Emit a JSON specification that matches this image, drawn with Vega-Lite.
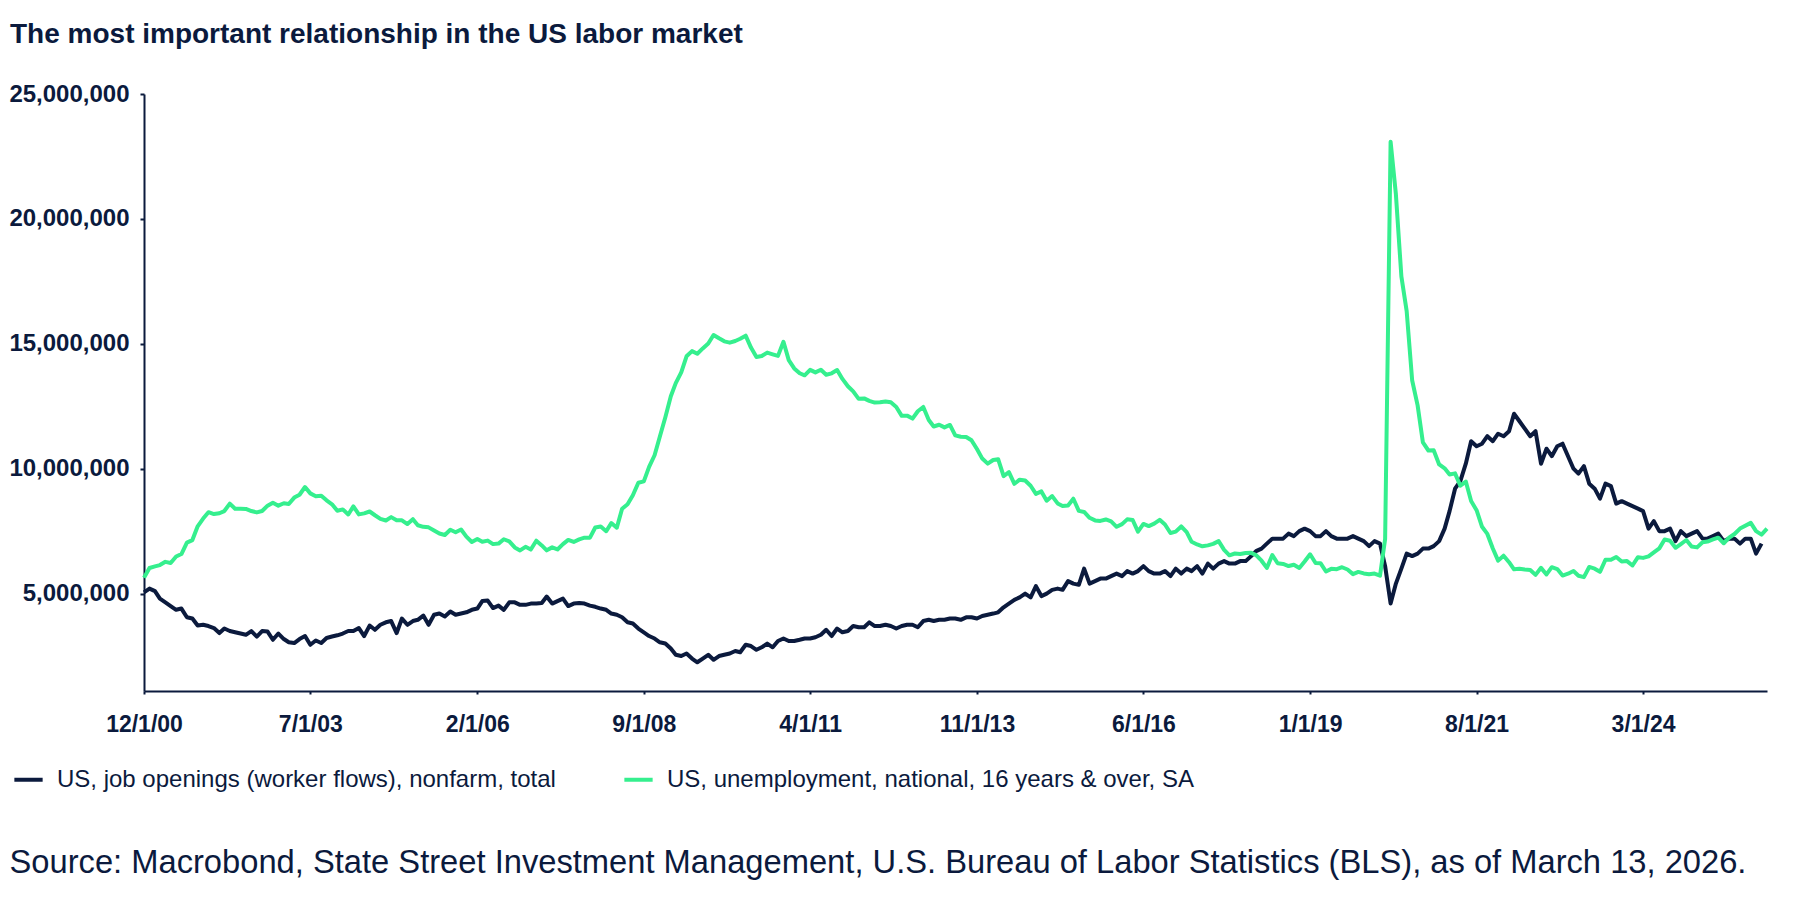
{
  "$schema": "https://vega.github.io/schema/vega-lite/v6.json",
  "width": 1623,
  "height": 597,
  "autosize": {"type": "none"},
  "padding": {"left": 144, "top": 94, "right": 33, "bottom": 209},
  "background": "white",
  "title": {
    "text": "The most important relationship in the US labor market",
    "anchor": "start",
    "frame": "group",
    "dx": -134,
    "dy": -29,
    "font": "Liberation Sans",
    "fontSize": 28,
    "fontWeight": "bold",
    "color": "#0b1a3d"
  },
  "config": {
    "view": {"stroke": null},
    "axis": {"grid": false, "domainColor": "#0b1a3d", "domainWidth": 2, "tickColor": "#0b1a3d", "tickWidth": 2, "labelColor": "#0b1a3d", "labelFont": "Liberation Sans", "labelFontWeight": "bold", "labelFontSize": 23}
  },
  "datasets": {
    "jo": [
      {"d":"2000-12-01","v":5050000},
      {"d":"2001-01-01","v":5200000},{"d":"2001-02-01","v":5100000},{"d":"2001-03-01","v":4800000},{"d":"2001-04-01","v":4650000},{"d":"2001-05-01","v":4500000},{"d":"2001-06-01","v":4350000},{"d":"2001-07-01","v":4400000},{"d":"2001-08-01","v":4050000},{"d":"2001-09-01","v":4000000},{"d":"2001-10-01","v":3720000},{"d":"2001-11-01","v":3750000},{"d":"2001-12-01","v":3700000},
      {"d":"2002-01-01","v":3620000},{"d":"2002-02-01","v":3420000},{"d":"2002-03-01","v":3600000},{"d":"2002-04-01","v":3500000},{"d":"2002-05-01","v":3450000},{"d":"2002-06-01","v":3400000},{"d":"2002-07-01","v":3350000},{"d":"2002-08-01","v":3500000},{"d":"2002-09-01","v":3280000},{"d":"2002-10-01","v":3500000},{"d":"2002-11-01","v":3480000},{"d":"2002-12-01","v":3150000},
      {"d":"2003-01-01","v":3400000},{"d":"2003-02-01","v":3180000},{"d":"2003-03-01","v":3050000},{"d":"2003-04-01","v":3020000},{"d":"2003-05-01","v":3180000},{"d":"2003-06-01","v":3300000},{"d":"2003-07-01","v":2950000},{"d":"2003-08-01","v":3120000},{"d":"2003-09-01","v":3020000},{"d":"2003-10-01","v":3220000},{"d":"2003-11-01","v":3280000},{"d":"2003-12-01","v":3330000},
      {"d":"2004-01-01","v":3400000},{"d":"2004-02-01","v":3500000},{"d":"2004-03-01","v":3500000},{"d":"2004-04-01","v":3620000},{"d":"2004-05-01","v":3300000},{"d":"2004-06-01","v":3720000},{"d":"2004-07-01","v":3550000},{"d":"2004-08-01","v":3750000},{"d":"2004-09-01","v":3850000},{"d":"2004-10-01","v":3900000},{"d":"2004-11-01","v":3420000},{"d":"2004-12-01","v":4000000},
      {"d":"2005-01-01","v":3750000},{"d":"2005-02-01","v":3900000},{"d":"2005-03-01","v":3950000},{"d":"2005-04-01","v":4120000},{"d":"2005-05-01","v":3750000},{"d":"2005-06-01","v":4150000},{"d":"2005-07-01","v":4200000},{"d":"2005-08-01","v":4080000},{"d":"2005-09-01","v":4280000},{"d":"2005-10-01","v":4150000},{"d":"2005-11-01","v":4200000},{"d":"2005-12-01","v":4250000},
      {"d":"2006-01-01","v":4350000},{"d":"2006-02-01","v":4400000},{"d":"2006-03-01","v":4700000},{"d":"2006-04-01","v":4720000},{"d":"2006-05-01","v":4420000},{"d":"2006-06-01","v":4520000},{"d":"2006-07-01","v":4350000},{"d":"2006-08-01","v":4650000},{"d":"2006-09-01","v":4650000},{"d":"2006-10-01","v":4550000},{"d":"2006-11-01","v":4550000},{"d":"2006-12-01","v":4600000},
      {"d":"2007-01-01","v":4600000},{"d":"2007-02-01","v":4620000},{"d":"2007-03-01","v":4880000},{"d":"2007-04-01","v":4600000},{"d":"2007-05-01","v":4700000},{"d":"2007-06-01","v":4800000},{"d":"2007-07-01","v":4500000},{"d":"2007-08-01","v":4600000},{"d":"2007-09-01","v":4620000},{"d":"2007-10-01","v":4600000},{"d":"2007-11-01","v":4520000},{"d":"2007-12-01","v":4470000},
      {"d":"2008-01-01","v":4400000},{"d":"2008-02-01","v":4350000},{"d":"2008-03-01","v":4200000},{"d":"2008-04-01","v":4150000},{"d":"2008-05-01","v":4050000},{"d":"2008-06-01","v":3850000},{"d":"2008-07-01","v":3800000},{"d":"2008-08-01","v":3600000},{"d":"2008-09-01","v":3450000},{"d":"2008-10-01","v":3300000},{"d":"2008-11-01","v":3200000},{"d":"2008-12-01","v":3050000},
      {"d":"2009-01-01","v":3000000},{"d":"2009-02-01","v":2800000},{"d":"2009-03-01","v":2550000},{"d":"2009-04-01","v":2500000},{"d":"2009-05-01","v":2600000},{"d":"2009-06-01","v":2400000},{"d":"2009-07-01","v":2250000},{"d":"2009-08-01","v":2400000},{"d":"2009-09-01","v":2550000},{"d":"2009-10-01","v":2350000},{"d":"2009-11-01","v":2500000},{"d":"2009-12-01","v":2550000},
      {"d":"2010-01-01","v":2600000},{"d":"2010-02-01","v":2700000},{"d":"2010-03-01","v":2650000},{"d":"2010-04-01","v":2950000},{"d":"2010-05-01","v":2900000},{"d":"2010-06-01","v":2750000},{"d":"2010-07-01","v":2850000},{"d":"2010-08-01","v":3000000},{"d":"2010-09-01","v":2850000},{"d":"2010-10-01","v":3100000},{"d":"2010-11-01","v":3200000},{"d":"2010-12-01","v":3100000},
      {"d":"2011-01-01","v":3100000},{"d":"2011-02-01","v":3150000},{"d":"2011-03-01","v":3200000},{"d":"2011-04-01","v":3200000},{"d":"2011-05-01","v":3250000},{"d":"2011-06-01","v":3350000},{"d":"2011-07-01","v":3550000},{"d":"2011-08-01","v":3300000},{"d":"2011-09-01","v":3600000},{"d":"2011-10-01","v":3450000},{"d":"2011-11-01","v":3500000},{"d":"2011-12-01","v":3700000},
      {"d":"2012-01-01","v":3650000},{"d":"2012-02-01","v":3650000},{"d":"2012-03-01","v":3850000},{"d":"2012-04-01","v":3700000},{"d":"2012-05-01","v":3700000},{"d":"2012-06-01","v":3750000},{"d":"2012-07-01","v":3700000},{"d":"2012-08-01","v":3600000},{"d":"2012-09-01","v":3700000},{"d":"2012-10-01","v":3750000},{"d":"2012-11-01","v":3750000},{"d":"2012-12-01","v":3650000},
      {"d":"2013-01-01","v":3900000},{"d":"2013-02-01","v":3950000},{"d":"2013-03-01","v":3900000},{"d":"2013-04-01","v":3950000},{"d":"2013-05-01","v":3950000},{"d":"2013-06-01","v":4000000},{"d":"2013-07-01","v":4000000},{"d":"2013-08-01","v":3950000},{"d":"2013-09-01","v":4050000},{"d":"2013-10-01","v":4050000},{"d":"2013-11-01","v":4000000},{"d":"2013-12-01","v":4100000},
      {"d":"2014-01-01","v":4150000},{"d":"2014-02-01","v":4200000},{"d":"2014-03-01","v":4250000},{"d":"2014-04-01","v":4450000},{"d":"2014-05-01","v":4600000},{"d":"2014-06-01","v":4750000},{"d":"2014-07-01","v":4850000},{"d":"2014-08-01","v":5000000},{"d":"2014-09-01","v":4850000},{"d":"2014-10-01","v":5300000},{"d":"2014-11-01","v":4900000},{"d":"2014-12-01","v":5000000},
      {"d":"2015-01-01","v":5150000},{"d":"2015-02-01","v":5200000},{"d":"2015-03-01","v":5150000},{"d":"2015-04-01","v":5500000},{"d":"2015-05-01","v":5400000},{"d":"2015-06-01","v":5350000},{"d":"2015-07-01","v":6000000},{"d":"2015-08-01","v":5400000},{"d":"2015-09-01","v":5500000},{"d":"2015-10-01","v":5600000},{"d":"2015-11-01","v":5600000},{"d":"2015-12-01","v":5700000},
      {"d":"2016-01-01","v":5800000},{"d":"2016-02-01","v":5700000},{"d":"2016-03-01","v":5900000},{"d":"2016-04-01","v":5800000},{"d":"2016-05-01","v":5900000},{"d":"2016-06-01","v":6100000},{"d":"2016-07-01","v":5900000},{"d":"2016-08-01","v":5800000},{"d":"2016-09-01","v":5800000},{"d":"2016-10-01","v":5900000},{"d":"2016-11-01","v":5700000},{"d":"2016-12-01","v":6000000},
      {"d":"2017-01-01","v":5800000},{"d":"2017-02-01","v":6000000},{"d":"2017-03-01","v":5900000},{"d":"2017-04-01","v":6100000},{"d":"2017-05-01","v":5800000},{"d":"2017-06-01","v":6200000},{"d":"2017-07-01","v":6000000},{"d":"2017-08-01","v":6200000},{"d":"2017-09-01","v":6300000},{"d":"2017-10-01","v":6200000},{"d":"2017-11-01","v":6200000},{"d":"2017-12-01","v":6300000},
      {"d":"2018-01-01","v":6300000},{"d":"2018-02-01","v":6500000},{"d":"2018-03-01","v":6700000},{"d":"2018-04-01","v":6800000},{"d":"2018-05-01","v":7000000},{"d":"2018-06-01","v":7200000},{"d":"2018-07-01","v":7200000},{"d":"2018-08-01","v":7200000},{"d":"2018-09-01","v":7400000},{"d":"2018-10-01","v":7300000},{"d":"2018-11-01","v":7500000},{"d":"2018-12-01","v":7600000},
      {"d":"2019-01-01","v":7500000},{"d":"2019-02-01","v":7300000},{"d":"2019-03-01","v":7300000},{"d":"2019-04-01","v":7500000},{"d":"2019-05-01","v":7300000},{"d":"2019-06-01","v":7200000},{"d":"2019-07-01","v":7200000},{"d":"2019-08-01","v":7200000},{"d":"2019-09-01","v":7300000},{"d":"2019-10-01","v":7200000},{"d":"2019-11-01","v":7100000},{"d":"2019-12-01","v":6900000},
      {"d":"2020-01-01","v":7100000},{"d":"2020-02-01","v":7000000},{"d":"2020-03-01","v":6100000},{"d":"2020-04-01","v":4600000},{"d":"2020-05-01","v":5400000},{"d":"2020-06-01","v":6000000},{"d":"2020-07-01","v":6600000},{"d":"2020-08-01","v":6500000},{"d":"2020-09-01","v":6600000},{"d":"2020-10-01","v":6800000},{"d":"2020-11-01","v":6800000},{"d":"2020-12-01","v":6900000},
      {"d":"2021-01-01","v":7100000},{"d":"2021-02-01","v":7600000},{"d":"2021-03-01","v":8300000},{"d":"2021-04-01","v":9200000},{"d":"2021-05-01","v":9500000},{"d":"2021-06-01","v":10200000},{"d":"2021-07-01","v":11100000},{"d":"2021-08-01","v":10900000},{"d":"2021-09-01","v":11000000},{"d":"2021-10-01","v":11300000},{"d":"2021-11-01","v":11100000},{"d":"2021-12-01","v":11400000},
      {"d":"2022-01-01","v":11300000},{"d":"2022-02-01","v":11500000},{"d":"2022-03-01","v":12200000},{"d":"2022-04-01","v":11900000},{"d":"2022-05-01","v":11600000},{"d":"2022-06-01","v":11300000},{"d":"2022-07-01","v":11500000},{"d":"2022-08-01","v":10200000},{"d":"2022-09-01","v":10800000},{"d":"2022-10-01","v":10500000},{"d":"2022-11-01","v":10900000},{"d":"2022-12-01","v":11000000},
      {"d":"2023-01-01","v":10500000},{"d":"2023-02-01","v":10000000},{"d":"2023-03-01","v":9800000},{"d":"2023-04-01","v":10100000},{"d":"2023-05-01","v":9400000},{"d":"2023-06-01","v":9200000},{"d":"2023-07-01","v":8800000},{"d":"2023-08-01","v":9400000},{"d":"2023-09-01","v":9300000},{"d":"2023-10-01","v":8600000},{"d":"2023-11-01","v":8700000},{"d":"2023-12-01","v":8600000},
      {"d":"2024-01-01","v":8500000},{"d":"2024-02-01","v":8400000},{"d":"2024-03-01","v":8300000},{"d":"2024-04-01","v":7600000},{"d":"2024-05-01","v":7900000},{"d":"2024-06-01","v":7500000},{"d":"2024-07-01","v":7500000},{"d":"2024-08-01","v":7600000},{"d":"2024-09-01","v":7100000},{"d":"2024-10-01","v":7500000},{"d":"2024-11-01","v":7300000},{"d":"2024-12-01","v":7400000},
      {"d":"2025-01-01","v":7500000},{"d":"2025-02-01","v":7200000},{"d":"2025-03-01","v":7200000},{"d":"2025-04-01","v":7300000},{"d":"2025-05-01","v":7400000},{"d":"2025-06-01","v":7100000},{"d":"2025-07-01","v":7200000},{"d":"2025-08-01","v":7200000},{"d":"2025-09-01","v":7000000},{"d":"2025-10-01","v":7200000},{"d":"2025-11-01","v":7200000},{"d":"2025-12-01","v":6600000},
      {"d":"2026-01-01","v":7000000}
    ],
    "un": [
      {"d":"2000-12-01","v":5634000},
      {"d":"2001-01-01","v":6023000},{"d":"2001-02-01","v":6089000},{"d":"2001-03-01","v":6141000},{"d":"2001-04-01","v":6271000},{"d":"2001-05-01","v":6226000},{"d":"2001-06-01","v":6484000},{"d":"2001-07-01","v":6583000},{"d":"2001-08-01","v":7042000},{"d":"2001-09-01","v":7142000},{"d":"2001-10-01","v":7694000},{"d":"2001-11-01","v":8003000},{"d":"2001-12-01","v":8258000},
      {"d":"2002-01-01","v":8182000},{"d":"2002-02-01","v":8215000},{"d":"2002-03-01","v":8304000},{"d":"2002-04-01","v":8599000},{"d":"2002-05-01","v":8399000},{"d":"2002-06-01","v":8393000},{"d":"2002-07-01","v":8390000},{"d":"2002-08-01","v":8304000},{"d":"2002-09-01","v":8251000},{"d":"2002-10-01","v":8307000},{"d":"2002-11-01","v":8520000},{"d":"2002-12-01","v":8640000},
      {"d":"2003-01-01","v":8520000},{"d":"2003-02-01","v":8618000},{"d":"2003-03-01","v":8588000},{"d":"2003-04-01","v":8842000},{"d":"2003-05-01","v":8957000},{"d":"2003-06-01","v":9266000},{"d":"2003-07-01","v":9011000},{"d":"2003-08-01","v":8896000},{"d":"2003-09-01","v":8921000},{"d":"2003-10-01","v":8732000},{"d":"2003-11-01","v":8576000},{"d":"2003-12-01","v":8317000},
      {"d":"2004-01-01","v":8370000},{"d":"2004-02-01","v":8167000},{"d":"2004-03-01","v":8491000},{"d":"2004-04-01","v":8170000},{"d":"2004-05-01","v":8212000},{"d":"2004-06-01","v":8286000},{"d":"2004-07-01","v":8136000},{"d":"2004-08-01","v":7990000},{"d":"2004-09-01","v":7927000},{"d":"2004-10-01","v":8061000},{"d":"2004-11-01","v":7932000},{"d":"2004-12-01","v":7934000},
      {"d":"2005-01-01","v":7784000},{"d":"2005-02-01","v":7980000},{"d":"2005-03-01","v":7737000},{"d":"2005-04-01","v":7672000},{"d":"2005-05-01","v":7651000},{"d":"2005-06-01","v":7524000},{"d":"2005-07-01","v":7406000},{"d":"2005-08-01","v":7345000},{"d":"2005-09-01","v":7553000},{"d":"2005-10-01","v":7453000},{"d":"2005-11-01","v":7566000},{"d":"2005-12-01","v":7279000},
      {"d":"2006-01-01","v":7064000},{"d":"2006-02-01","v":7184000},{"d":"2006-03-01","v":7072000},{"d":"2006-04-01","v":7120000},{"d":"2006-05-01","v":6980000},{"d":"2006-06-01","v":7001000},{"d":"2006-07-01","v":7175000},{"d":"2006-08-01","v":7091000},{"d":"2006-09-01","v":6847000},{"d":"2006-10-01","v":6727000},{"d":"2006-11-01","v":6872000},{"d":"2006-12-01","v":6762000},
      {"d":"2007-01-01","v":7116000},{"d":"2007-02-01","v":6927000},{"d":"2007-03-01","v":6731000},{"d":"2007-04-01","v":6850000},{"d":"2007-05-01","v":6766000},{"d":"2007-06-01","v":6979000},{"d":"2007-07-01","v":7149000},{"d":"2007-08-01","v":7067000},{"d":"2007-09-01","v":7170000},{"d":"2007-10-01","v":7237000},{"d":"2007-11-01","v":7240000},{"d":"2007-12-01","v":7645000},
      {"d":"2008-01-01","v":7685000},{"d":"2008-02-01","v":7497000},{"d":"2008-03-01","v":7822000},{"d":"2008-04-01","v":7637000},{"d":"2008-05-01","v":8395000},{"d":"2008-06-01","v":8575000},{"d":"2008-07-01","v":8937000},{"d":"2008-08-01","v":9438000},{"d":"2008-09-01","v":9494000},{"d":"2008-10-01","v":10074000},{"d":"2008-11-01","v":10538000},{"d":"2008-12-01","v":11286000},
      {"d":"2009-01-01","v":12058000},{"d":"2009-02-01","v":12898000},{"d":"2009-03-01","v":13426000},{"d":"2009-04-01","v":13853000},{"d":"2009-05-01","v":14499000},{"d":"2009-06-01","v":14707000},{"d":"2009-07-01","v":14601000},{"d":"2009-08-01","v":14814000},{"d":"2009-09-01","v":15009000},{"d":"2009-10-01","v":15352000},{"d":"2009-11-01","v":15219000},{"d":"2009-12-01","v":15098000},
      {"d":"2010-01-01","v":15046000},{"d":"2010-02-01","v":15113000},{"d":"2010-03-01","v":15202000},{"d":"2010-04-01","v":15325000},{"d":"2010-05-01","v":14849000},{"d":"2010-06-01","v":14474000},{"d":"2010-07-01","v":14512000},{"d":"2010-08-01","v":14648000},{"d":"2010-09-01","v":14579000},{"d":"2010-10-01","v":14516000},{"d":"2010-11-01","v":15081000},{"d":"2010-12-01","v":14348000},
      {"d":"2011-01-01","v":14013000},{"d":"2011-02-01","v":13820000},{"d":"2011-03-01","v":13737000},{"d":"2011-04-01","v":13957000},{"d":"2011-05-01","v":13855000},{"d":"2011-06-01","v":13962000},{"d":"2011-07-01","v":13763000},{"d":"2011-08-01","v":13818000},{"d":"2011-09-01","v":13948000},{"d":"2011-10-01","v":13594000},{"d":"2011-11-01","v":13302000},{"d":"2011-12-01","v":13093000},
      {"d":"2012-01-01","v":12797000},{"d":"2012-02-01","v":12813000},{"d":"2012-03-01","v":12713000},{"d":"2012-04-01","v":12646000},{"d":"2012-05-01","v":12660000},{"d":"2012-06-01","v":12692000},{"d":"2012-07-01","v":12656000},{"d":"2012-08-01","v":12471000},{"d":"2012-09-01","v":12115000},{"d":"2012-10-01","v":12124000},{"d":"2012-11-01","v":12005000},{"d":"2012-12-01","v":12298000},
      {"d":"2013-01-01","v":12471000},{"d":"2013-02-01","v":11950000},{"d":"2013-03-01","v":11689000},{"d":"2013-04-01","v":11760000},{"d":"2013-05-01","v":11654000},{"d":"2013-06-01","v":11751000},{"d":"2013-07-01","v":11335000},{"d":"2013-08-01","v":11279000},{"d":"2013-09-01","v":11270000},{"d":"2013-10-01","v":11136000},{"d":"2013-11-01","v":10787000},{"d":"2013-12-01","v":10404000},
      {"d":"2014-01-01","v":10202000},{"d":"2014-02-01","v":10349000},{"d":"2014-03-01","v":10380000},{"d":"2014-04-01","v":9702000},{"d":"2014-05-01","v":9859000},{"d":"2014-06-01","v":9395000},{"d":"2014-07-01","v":9561000},{"d":"2014-08-01","v":9527000},{"d":"2014-09-01","v":9316000},{"d":"2014-10-01","v":8990000},{"d":"2014-11-01","v":9090000},{"d":"2014-12-01","v":8717000},
      {"d":"2015-01-01","v":8903000},{"d":"2015-02-01","v":8610000},{"d":"2015-03-01","v":8504000},{"d":"2015-04-01","v":8526000},{"d":"2015-05-01","v":8797000},{"d":"2015-06-01","v":8310000},{"d":"2015-07-01","v":8269000},{"d":"2015-08-01","v":8034000},{"d":"2015-09-01","v":7930000},{"d":"2015-10-01","v":7908000},{"d":"2015-11-01","v":7967000},{"d":"2015-12-01","v":7889000},
      {"d":"2016-01-01","v":7673000},{"d":"2016-02-01","v":7779000},{"d":"2016-03-01","v":7972000},{"d":"2016-04-01","v":7945000},{"d":"2016-05-01","v":7478000},{"d":"2016-06-01","v":7788000},{"d":"2016-07-01","v":7703000},{"d":"2016-08-01","v":7803000},{"d":"2016-09-01","v":7952000},{"d":"2016-10-01","v":7766000},{"d":"2016-11-01","v":7426000},{"d":"2016-12-01","v":7479000},
      {"d":"2017-01-01","v":7688000},{"d":"2017-02-01","v":7458000},{"d":"2017-03-01","v":7073000},{"d":"2017-04-01","v":6967000},{"d":"2017-05-01","v":6892000},{"d":"2017-06-01","v":6929000},{"d":"2017-07-01","v":6991000},{"d":"2017-08-01","v":7100000},{"d":"2017-09-01","v":6751000},{"d":"2017-10-01","v":6532000},{"d":"2017-11-01","v":6605000},{"d":"2017-12-01","v":6587000},
      {"d":"2018-01-01","v":6628000},{"d":"2018-02-01","v":6630000},{"d":"2018-03-01","v":6541000},{"d":"2018-04-01","v":6316000},{"d":"2018-05-01","v":6027000},{"d":"2018-06-01","v":6544000},{"d":"2018-07-01","v":6213000},{"d":"2018-08-01","v":6185000},{"d":"2018-09-01","v":6103000},{"d":"2018-10-01","v":6155000},{"d":"2018-11-01","v":6025000},{"d":"2018-12-01","v":6284000},
      {"d":"2019-01-01","v":6575000},{"d":"2019-02-01","v":6225000},{"d":"2019-03-01","v":6216000},{"d":"2019-04-01","v":5884000},{"d":"2019-05-01","v":5990000},{"d":"2019-06-01","v":5977000},{"d":"2019-07-01","v":6055000},{"d":"2019-08-01","v":5963000},{"d":"2019-09-01","v":5779000},{"d":"2019-10-01","v":5867000},{"d":"2019-11-01","v":5806000},{"d":"2019-12-01","v":5771000},
      {"d":"2020-01-01","v":5801000},{"d":"2020-02-01","v":5717000},{"d":"2020-03-01","v":7185000},{"d":"2020-04-01","v":23090000},{"d":"2020-05-01","v":20985000},{"d":"2020-06-01","v":17697000},{"d":"2020-07-01","v":16308000},{"d":"2020-08-01","v":13542000},{"d":"2020-09-01","v":12535000},{"d":"2020-10-01","v":11049000},{"d":"2020-11-01","v":10728000},{"d":"2020-12-01","v":10736000},
      {"d":"2021-01-01","v":10171000},{"d":"2021-02-01","v":10013000},{"d":"2021-03-01","v":9769000},{"d":"2021-04-01","v":9812000},{"d":"2021-05-01","v":9316000},{"d":"2021-06-01","v":9484000},{"d":"2021-07-01","v":8703000},{"d":"2021-08-01","v":8337000},{"d":"2021-09-01","v":7674000},{"d":"2021-10-01","v":7388000},{"d":"2021-11-01","v":6806000},{"d":"2021-12-01","v":6319000},
      {"d":"2022-01-01","v":6516000},{"d":"2022-02-01","v":6256000},{"d":"2022-03-01","v":5971000},{"d":"2022-04-01","v":5990000},{"d":"2022-05-01","v":5963000},{"d":"2022-06-01","v":5947000},{"d":"2022-07-01","v":5749000},{"d":"2022-08-01","v":6030000},{"d":"2022-09-01","v":5767000},{"d":"2022-10-01","v":6057000},{"d":"2022-11-01","v":5982000},{"d":"2022-12-01","v":5722000},
      {"d":"2023-01-01","v":5796000},{"d":"2023-02-01","v":5906000},{"d":"2023-03-01","v":5716000},{"d":"2023-04-01","v":5659000},{"d":"2023-05-01","v":6066000},{"d":"2023-06-01","v":5997000},{"d":"2023-07-01","v":5871000},{"d":"2023-08-01","v":6356000},{"d":"2023-09-01","v":6352000},{"d":"2023-10-01","v":6466000},{"d":"2023-11-01","v":6281000},{"d":"2023-12-01","v":6300000},
      {"d":"2024-01-01","v":6124000},{"d":"2024-02-01","v":6458000},{"d":"2024-03-01","v":6429000},{"d":"2024-04-01","v":6492000},{"d":"2024-05-01","v":6649000},{"d":"2024-06-01","v":6811000},{"d":"2024-07-01","v":7163000},{"d":"2024-08-01","v":7115000},{"d":"2024-09-01","v":6834000},{"d":"2024-10-01","v":6984000},{"d":"2024-11-01","v":7145000},{"d":"2024-12-01","v":6886000},
      {"d":"2025-01-01","v":6849000},{"d":"2025-02-01","v":7052000},{"d":"2025-03-01","v":7083000},{"d":"2025-04-01","v":7166000},{"d":"2025-05-01","v":7237000},{"d":"2025-06-01","v":7015000},{"d":"2025-07-01","v":7236000},{"d":"2025-08-01","v":7384000},{"d":"2025-09-01","v":7603000},{"d":"2025-11-01","v":7831000},{"d":"2025-12-01","v":7500000},
      {"d":"2026-01-01","v":7362000},{"d":"2026-02-01","v":7600000}
    ]
  },
  "encoding": {
    "x": {
      "field": "d",
      "type": "temporal",
      "scale": {"type": "utc", "domain": [{"year": 2000, "month": 12, "date": 1, "utc": true}, {"year": 2026, "month": 2, "date": 1, "utc": true}]},
      "axis": {
        "values": [
          {"year": 2000, "month": 12, "date": 1, "utc": true},
          {"year": 2003, "month": 7, "date": 1, "utc": true},
          {"year": 2006, "month": 2, "date": 1, "utc": true},
          {"year": 2008, "month": 9, "date": 1, "utc": true},
          {"year": 2011, "month": 4, "date": 1, "utc": true},
          {"year": 2013, "month": 11, "date": 1, "utc": true},
          {"year": 2016, "month": 6, "date": 1, "utc": true},
          {"year": 2019, "month": 1, "date": 1, "utc": true},
          {"year": 2021, "month": 8, "date": 1, "utc": true},
          {"year": 2024, "month": 3, "date": 1, "utc": true}
        ],
        "labelExpr": "utcFormat(datum.value, '%-m/%-d/%y')",
        "labelFlush": false,
        "labelOverlap": false,
        "labelFontSize": 23,
        "tickSize": 3,
        "labelPadding": 19,
        "title": "Source: Macrobond, State Street Investment Management, U.S. Bureau of Labor Statistics (BLS), as of March 13, 2026.",
        "titleFont": "Liberation Sans",
        "titleFontWeight": "normal",
        "titleFontSize": 32.7,
        "titleColor": "#0b1a3d",
        "titleAlign": "left",
        "titleAnchor": "start",
        "titleBaseline": "middle",
        "titleX": -135,
        "titleY": 171
      }
    },
    "y": {
      "field": "v",
      "type": "quantitative",
      "scale": {"domain": [1100000, 25000000], "nice": false, "zero": false},
      "axis": {"values": [5000000, 10000000, 15000000, 20000000, 25000000], "labelExpr": "format(datum.value, ',')", "labelFontSize": 24, "tickSize": 4, "labelPadding": 11, "title": null}
    },
    "color": {
      "type": "nominal",
      "scale": {
        "domain": ["US, job openings (worker flows), nonfarm, total", "US, unemployment, national, 16 years & over, SA"],
        "range": ["#0b1a3d", "#35ef8e"]
      },
      "legend": {
        "title": null,
        "orient": "none",
        "legendX": -132,
        "legendY": 669,
        "direction": "horizontal",
        "symbolType": "stroke",
        "symbolStrokeWidth": 4,
        "symbolSize": 800,
        "labelFont": "Liberation Sans",
        "labelFontSize": 24,
        "labelColor": "#0b1a3d",
        "labelOffset": 12,
        "columnPadding": 60,
        "labelLimit": 800
      }
    }
  },
  "layer": [
    {
      "data": {"name": "jo"},
      "mark": {"type": "line", "strokeWidth": 4, "strokeJoin": "round"},
      "encoding": {"color": {"datum": "US, job openings (worker flows), nonfarm, total"}}
    },
    {
      "data": {"name": "un"},
      "mark": {"type": "line", "strokeWidth": 4, "strokeJoin": "round"},
      "encoding": {"color": {"datum": "US, unemployment, national, 16 years & over, SA"}}
    }
  ]
}
